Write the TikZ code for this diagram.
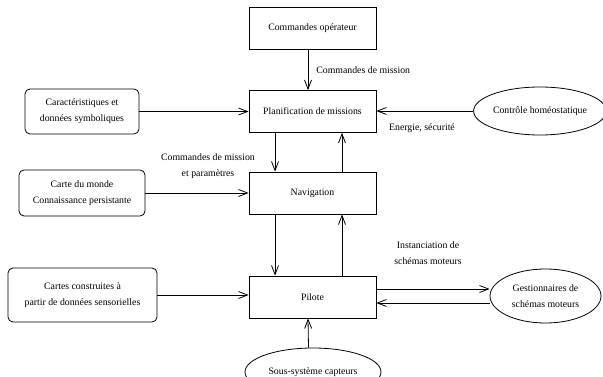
\documentclass[tikz,border=0pt]{standalone}
\usepackage{fontspec}
\setmainfont{Liberation Serif}
\usetikzlibrary{arrows.meta,shapes.geometric}
\begin{document}
\begin{tikzpicture}[x=1pt,y=-1pt,
  font=\fontsize{9.8}{16}\selectfont,
  every node/.style={inner sep=0pt, align=center},
  block/.style={draw, line width=0.8pt, minimum width=127pt, minimum height=42pt},
  store/.style={draw, line width=0.8pt, rounded corners=5pt},
  agent/.style={draw, line width=0.8pt, ellipse},
  arr/.style={line width=0.8pt, -{Straight Barb[length=9pt,width=7pt]}}]
\clip (0,0) rectangle (603,377);

% main chain of modules
\node[block] (opcmd) at (312.5,28) {Commandes opérateur};
\node[block] (plan) at (312.5,111.5) {Planification de missions};
\node[block] (nav) at (312.5,193) {Navigation};
\node[block] (pilot) at (312.5,297) {Pilote};

% knowledge stores on the left
\node[store, minimum width=114pt, minimum height=45pt] (carac) at (82,111.5) {Caractéristiques et\\données symboliques};
\node[store, minimum width=126pt, minimum height=46pt] (world) at (82,193) {Carte du monde\\Connaissance persistante};
\node[store, minimum width=149pt, minimum height=54pt] (maps) at (82.5,295) {Cartes construites à\\partir de données sensorielles};

% external subsystems
\node[agent, minimum width=128pt, minimum height=48pt] (homeo) at (540,111) {Contrôle homéostatique};
\node[agent, minimum width=111pt, minimum height=54pt] (schema) at (545.5,296) {Gestionnaires de\\schémas moteurs};
\node[agent, minimum width=136pt, minimum height=48pt] (sensors) at (313,372) {Sous-système capteurs};

% vertical flows
\draw[arr] ([xshift=-4.5pt]opcmd.south) -- ([xshift=-4.5pt]plan.north)
  node[pos=0.5, right=8pt] {Commandes de mission};
\draw[arr] ([xshift=-37.5pt]plan.south) -- ([xshift=-37.5pt]nav.north);
\draw[arr] ([xshift=29.5pt]nav.north) -- ([xshift=29.5pt]plan.south);
\draw[arr] ([xshift=-37.5pt]nav.south) -- ([xshift=-37.5pt]pilot.north);
\draw[arr] ([xshift=29.5pt]pilot.north) -- ([xshift=29.5pt]nav.south);
\draw[arr] ([xshift=-4.5pt]sensors.north) -- ([xshift=-4.5pt]pilot.south);

% horizontal flows
\draw[arr] (carac.east) -- (carac.east -| plan.west);
\draw[arr] (world.east) -- (world.east -| nav.west);
\draw[arr] (maps.east) -- (maps.east -| pilot.west);
\draw[arr] (homeo.west) -- (homeo.west -| plan.east);
\draw[arr] ([yshift=8pt]pilot.east) -- ([yshift=8pt]pilot.east -| schema.west);
\draw[arr] ([yshift=-6pt]pilot.east -| schema.west) -- ([yshift=-6pt]pilot.east);

% flow labels
\node (lblE) at (422,128) {Energie, sécurité};
\node (lblP) at (208,166) {Commandes de mission\\et paramètres};
\node (lblI) at (428,253.5) {Instanciation de\\schémas moteurs};
\end{tikzpicture}
\end{document}
